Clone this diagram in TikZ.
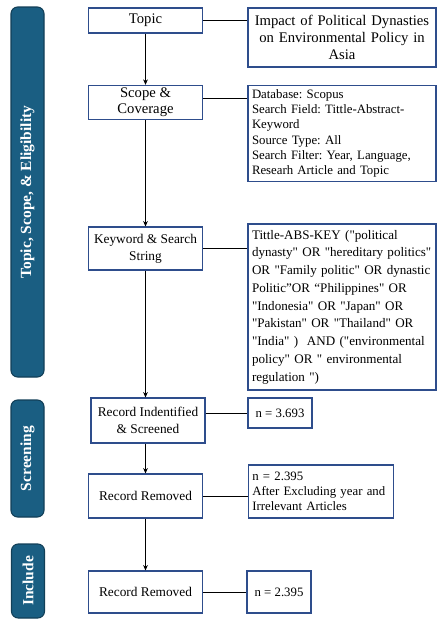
\documentclass[tikz,border=0pt]{standalone}
\usepackage{fontspec}
\setmainfont{Liberation Serif}[Ligatures=TeXOff]
\usetikzlibrary{arrows.meta}

\definecolor{phasefill}{HTML}{1A5E82}
\definecolor{phaseedge}{HTML}{123F57}
\definecolor{boxedge}{HTML}{2E4D8C}

\begin{document}
\frenchspacing
\begin{tikzpicture}[x=0.75pt,y=-0.75pt,>={Stealth[length=4pt,width=3.5pt]},
	stage/.style={draw=boxedge,line width=0.9pt,fill=white,align=center,inner sep=2pt,
		minimum width=86pt,font=\fontsize{10.5}{12.5}\selectfont},
	info/.style={draw=boxedge,line width=0.9pt,fill=white,align=left,inner sep=3pt,
		font=\fontsize{9.6}{11.4}\selectfont},
	phase/.style={draw=phaseedge,line width=0.8pt,fill=phasefill,rounded corners=5pt,
		minimum width=24.75pt},
	phaselabel/.style={rotate=90,text=white,font=\fontsize{11.6}{14}\selectfont\bfseries}]
			
			\useasboundingbox (0,0) rectangle (444,625);
			
			% phase bars
			\node[phase,minimum height=277.5pt] (p1) at (27.5,192) {};
			\node[phaselabel] (p1text) at (p1) {Topic, Scope, \& Eligibility};
			\node[phase,minimum height=87.75pt] (p2) at (27.5,458.5) {};
			\node[phaselabel] (p2text) at (p2) {Screening};
			\node[phase,minimum height=55.5pt] (p3) at (28,581) {};
			\node[phaselabel] (p3text) at (p3) {Include};
			
			% main column
			\node[stage,minimum height=18.75pt,font=\fontsize{11}{13}\selectfont] (topic) at (145.5,20.5) {Topic};
			\node[stage,minimum height=24.75pt,font=\fontsize{11}{12}\selectfont] (scope) at (145.5,102.5) {Scope \&\\Coverage};
			\node[stage,minimum height=32.25pt,font=\fontsize{10}{12.5}\selectfont] (keyword) at (145.5,248.5) {Keyword \& Search\\String};
			\node[stage,minimum width=85.5pt,minimum height=33.75pt,font=\fontsize{10}{12.5}\selectfont] (ident) at (148,420.5) {Record Indentified\\\& Screened};
			\node[stage,minimum height=33pt,font=\fontsize{10}{12.5}\selectfont] (rem1) at (145.5,496) {Record Removed};
			\node[stage,minimum height=31.5pt,font=\fontsize{10}{12.5}\selectfont] (rem2) at (145.5,592) {Record Removed};
			
			% details column
			\node[info,align=center,text width=135pt,minimum height=44.25pt,font=\fontsize{11}{13}\selectfont] (impact) at (342,37.5) {Impact of Political Dynasties\\on Environmental Policy in\\Asia};
			\node[info,text width=135pt,minimum height=71.25pt] (db) at (342,133.5) {Database: Scopus\\Search Field: Tittle-Abstract-\\Keyword\\Source Type: All\\Search Filter: Year, Language,\\Researh Article and Topic};
			\node[info,text width=135pt,minimum height=124.5pt,font=\fontsize{9.8}{13.3}\selectfont] (query) at (342,307) {Tittle-ABS-KEY ("political\\dynasty" OR "hereditary politics"\\OR "Family politic" OR dynastic\\Politic”OR “Philippines" OR\\"Indonesia" OR "Japan" OR\\"Pakistan" OR "Thailand" OR\\"India" )\ \ AND ("environmental\\policy" OR " environmental\\regulation ")};
			\node[info,minimum width=48pt,minimum height=22.5pt] (n1) at (280,413) {n = 3.693};
			\node[info,text width=103pt,minimum height=39.75pt] (n2) at (321,491.5) {n = 2.395\\After Excluding year and\\Irrelevant Articles};
			\node[info,minimum width=48pt,minimum height=31.5pt] (n3) at (279,592) {n = 2.395};
			
			\draw[->] (topic)--(scope);
			\draw[->] (scope)--(keyword);
			\draw[->] (keyword.south)--(keyword.south |- ident.north);
			\draw[->] (keyword.south |- ident.south)--(keyword.south |- rem1.north);
			\draw[->] (rem1)--(rem2);
			
			\draw (topic.east)--(topic.east -| impact.west);
			\draw ([yshift=3.4pt]scope.east)--([yshift=3.4pt]scope.east -| db.west);
			\draw (keyword.east)--(keyword.east -| query.west);
			\draw (n1.west -| ident.east)--(n1.west);
			\draw (rem1.east)--(rem1.east -| n2.west);
			\draw (rem2.east)--(rem2.east -| n3.west);
			
		\end{tikzpicture}
\end{document}
